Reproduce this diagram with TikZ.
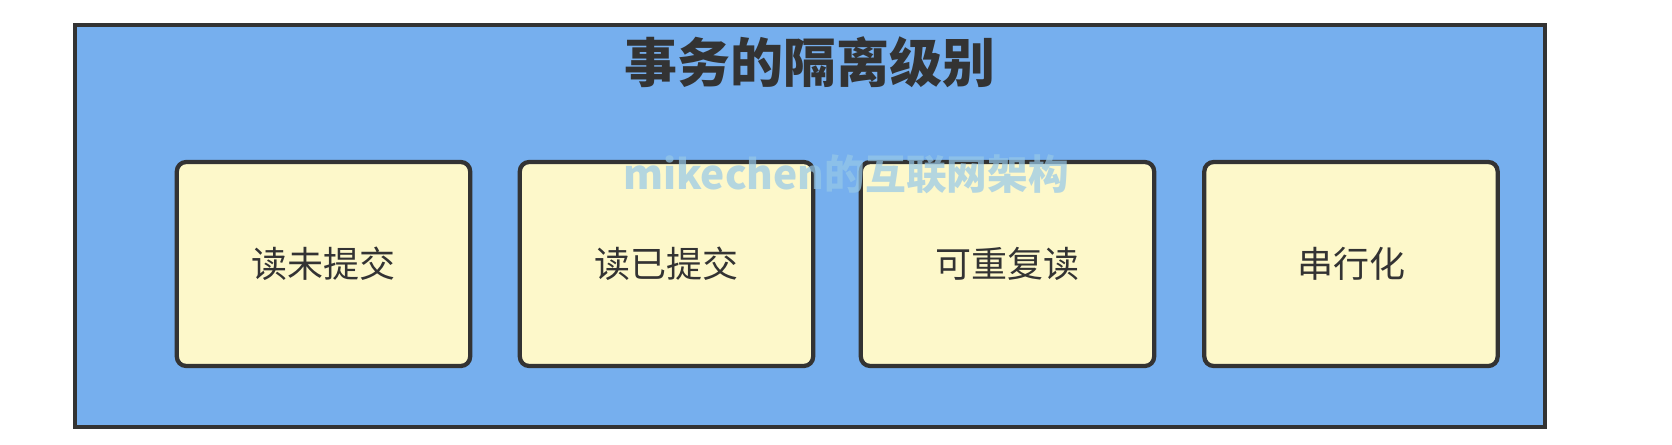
\documentclass[tikz,border=0pt]{standalone}
\usepackage{fontspec}
\usepackage{xcolor}
\usepackage{tikz}
\newfontfamily\cjk{Noto Sans CJK SC}
\definecolor{lvblue}{RGB}{118, 175, 238}
\definecolor{lvyellow}{RGB}{253, 248, 202}
\definecolor{lvline}{RGB}{51, 51, 51}
\definecolor{lvmark}{RGB}{150, 200, 232}
\tikzset{
  levelbox/.style={draw=lvline, line width=3.2pt, fill=lvyellow, rounded corners=7pt,
    minimum width=220pt, minimum height=153pt, font=\cjk\fontsize{27}{30}\selectfont, text=lvline}
}

\begin{document}
\begin{tikzpicture}[x=0.75pt, y=-0.75pt]
\useasboundingbox (0,0) rectangle (1672,444);
% Outer frame
\draw[draw=lvline, line width=2.8pt, fill=lvblue] (75,25) rectangle (1545,427);
\node[font=\cjk\bfseries\fontsize{39.7}{44}\selectfont, text=lvline] (title) at (810,62) {事务的隔离级别};

% Isolation levels
\node[levelbox] (ru) at (323.5,264) {读未提交};
\node[levelbox] (rc) at (666.5,264) {读已提交};
\node[levelbox] (rr) at (1007.5,264) {可重复读};
\node[levelbox] (sr) at (1351,264) {串行化};

% Watermark
\node[font=\cjk\bfseries\fontsize{30.5}{34}\selectfont, text=lvmark, text opacity=0.7] (mark) at (846,174) {mikechen的互联网架构};
\end{tikzpicture}
\end{document}
